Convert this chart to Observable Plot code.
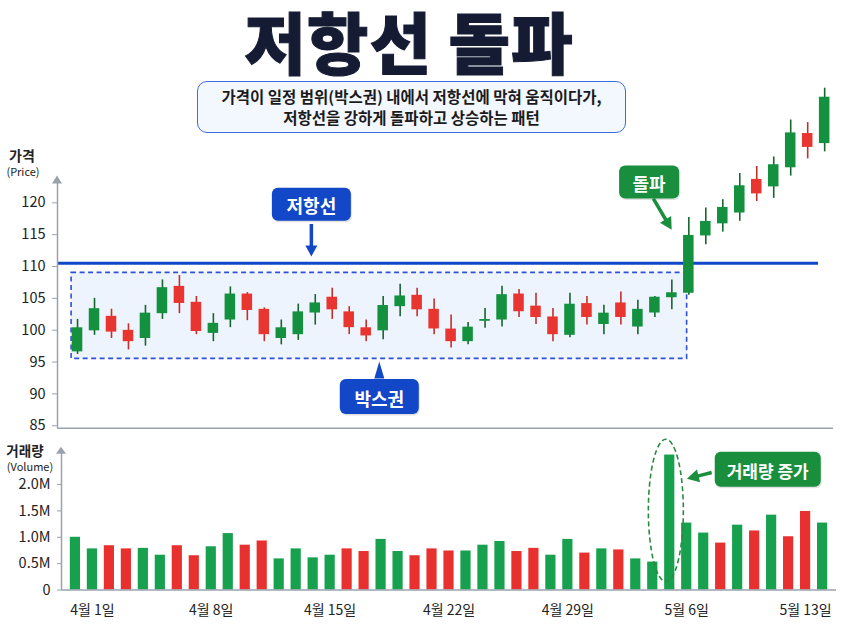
<!DOCTYPE html>
<html><head><meta charset="utf-8">
<script src="https://cdn.jsdelivr.net/npm/d3@7"></script>
<script src="https://cdn.jsdelivr.net/npm/@observablehq/plot@0.6"></script>
<style>
body{margin:0;background:#fff;font-family:"Noto Sans CJK KR","Noto Sans",sans-serif;}
#wrap{position:relative;width:849px;height:633px;overflow:hidden;background:#fff;}
#title{position:absolute;left:0;top:10px;width:818px;text-align:center;font-size:67px;font-weight:900;color:#141b33;line-height:60px;letter-spacing:1px;-webkit-text-stroke:1px #141b33;}
#sub{position:absolute;left:197px;top:81px;width:427px;height:50px;border:1.5px solid #3d6de0;border-radius:10px;background:#f3f7fe;text-align:center;font-size:15.5px;font-weight:700;color:#1b1b1b;line-height:21px;display:flex;flex-direction:column;justify-content:center;z-index:3;}
.chart{position:absolute;left:0;}
#price{top:80px;z-index:1}
#vol{top:430px;z-index:2}
.lab{position:absolute;text-align:center;color:#222;z-index:4;white-space:nowrap;}
</style></head>
<body><div id="wrap">
<div id="title">저항선 돌파</div>
<div id="sub"><div>가격이 일정 범위(박스권) 내에서 저항선에 막혀 움직이다가,</div><div>저항선을 강하게 돌파하고 상승하는 패턴</div></div>
<div class="lab" style="left:2px;top:148px;width:40px;font-size:14px;line-height:14px;font-weight:700;">가격</div>
<div class="lab" style="left:0px;top:165px;width:46px;font-size:11px;line-height:12px;">(Price)</div>
<div class="lab" style="left:0px;top:443px;width:50px;font-size:13.5px;line-height:14px;font-weight:700;">거래량</div>
<div class="lab" style="left:0px;top:460px;width:60px;font-size:11px;line-height:12px;">(Volume)</div>
<div id="price" class="chart"></div>
<div id="vol" class="chart"></div>
</div>
<script>
// ---- data ----
const open  = [96.6,99.9,102.1,99.9,98.7,102.6,106.8,104.3,99.5,101.6,105.6,103.2,98.7,99.3,102.7,105.1,102.8,100.3,99.9,103.7,105.4,103.2,100.1,98.2,101.4,101.6,105.6,103.7,102.0,99.2,104.1,100.9,104.2,100.5,102.7,105.1,105.8,114.8,116.7,118.4,123.6,122.5,125.5,130.8,129.3];
const high  = [101.7,105.0,103.3,101.0,103.9,107.9,108.6,105.3,102.6,106.8,105.9,103.5,101.6,104.1,105.6,106.6,103.7,101.6,105.3,107.2,106.6,104.9,102.4,101.2,103.4,106.9,106.4,105.8,103.4,105.8,105.3,103.9,106.0,104.7,105.3,107.9,117.7,119.2,120.5,124.6,125.7,127.2,133.0,132.6,138.0];
const low   = [96.2,99.2,98.7,96.9,97.5,101.7,102.6,99.3,98.2,100.4,101.5,98.2,97.7,98.4,100.8,101.7,99.3,98.2,98.5,102.1,102.1,99.3,97.2,97.7,100.3,100.5,102.0,100.9,98.2,98.8,100.8,99.3,100.8,99.3,102.0,103.2,105.5,113.4,115.4,117.1,120.2,120.7,124.2,126.9,128.0];
const close = [100.3,103.3,99.7,98.2,102.6,106.6,104.2,99.8,101.0,105.6,103.1,99.3,100.3,102.8,104.2,103.2,100.4,99.1,103.8,105.3,103.2,100.2,98.2,100.4,101.6,105.5,102.9,102.0,99.3,104.0,102.0,102.6,102.0,103.2,105.1,105.8,114.8,117.0,119.2,122.6,121.4,125.9,130.9,128.7,136.5];
const volume = [1.00,0.78,0.84,0.78,0.79,0.66,0.84,0.65,0.82,1.07,0.85,0.93,0.59,0.78,0.61,0.66,0.78,0.73,0.96,0.73,0.65,0.78,0.74,0.74,0.85,0.92,0.73,0.79,0.66,0.96,0.70,0.78,0.76,0.59,0.53,2.56,1.27,1.08,0.89,1.23,1.12,1.42,1.01,1.49,1.27];
const volumeUp = [1,1,0,0,1,1,0,0,1,1,0,0,1,1,1,1,0,0,1,1,0,0,0,1,1,1,0,0,1,1,0,1,0,1,1,1,1,1,0,1,0,1,0,0,1];
const dateTickIdx = [1,8,15,22,29,36,43];
const dateLabels = ["4월 1일","4월 8일","4월 15일","4월 22일","4월 29일","5월 6일","5월 13일"];
const priceTicks = [85,90,95,100,105,110,115,120];
const volTicks = [0,0.5,1.0,1.5,2.0];
const volTickLabels = ["0","0.5M","1.0M","1.5M","2.0M"];
const resistance = 110.5;
const boxRange = {x1:-0.35, x2:35.9, y1:95.5, y2:109};

// ---- styles ----
const green="#13913f", red="#e8352f", gWick="#17652f", rWick="#c2302a";
const vGreen="#17a04e", vRed="#e8312f";
const axisGray="#9aa3ad", blue="#1247c7", annGreen="#198f3d";
const FONT='"Noto Sans CJK KR","Noto Sans",sans-serif';

const candles = open.map((o,i)=>({i,o,h:high[i],l:low[i],c:close[i],up:close[i]>=o}));
const vols = volume.map((v,i)=>({i,v,up:volumeUp[i]===1}));

function badge(cx,cy,label,fill,w,h,fs){
  return (index,s)=>{
    const px=s.x(cx), py=s.y(cy);
    const g=d3.create("svg:g");
    g.append("rect").attr("x",px-w/2+1).attr("y",py-h/2+1.5).attr("width",w).attr("height",h).attr("rx",6).attr("fill","rgba(0,0,0,0.12)");
    g.append("rect").attr("x",px-w/2).attr("y",py-h/2).attr("width",w).attr("height",h).attr("rx",6).attr("fill",fill);
    g.append("text").attr("x",px).attr("y",py+1).attr("text-anchor","middle").attr("dominant-baseline","central")
      .attr("fill","#fff").attr("font-size",fs).attr("font-weight",700).attr("font-family",FONT).text(label);
    return g.node();
  };
}
function arrowMark(x1,y1,x2,y2,color,width,headLen,headW){
  return (index,s)=>{
    const ax=s.x(x1), ay=s.y(y1), bx=s.x(x2), by=s.y(y2);
    const dx=bx-ax, dy=by-ay, L=Math.hypot(dx,dy), ux=dx/L, uy=dy/L;
    const baseX=bx-ux*headLen, baseY=by-uy*headLen;
    const g=d3.create("svg:g");
    if (L>headLen+0.5) g.append("line").attr("x1",ax).attr("y1",ay).attr("x2",baseX+ux).attr("y2",baseY+uy).attr("stroke",color).attr("stroke-width",width);
    g.append("path").attr("d",`M${bx},${by}L${baseX-uy*headW/2},${baseY+ux*headW/2}L${baseX+uy*headW/2},${baseY-ux*headW/2}Z`).attr("fill",color);
    return g.node();
  };
}
function ellipseMark(cx,y1,y2,rx,color){
  return (index,s)=>{
    const px=s.x(cx), a=s.y(y1), b=s.y(y2);
    return d3.create("svg:ellipse").attr("cx",px).attr("cy",(a+b)/2).attr("rx",rx).attr("ry",Math.abs(a-b)/2)
      .attr("fill","none").attr("stroke",color).attr("stroke-width",1.6).attr("stroke-dasharray","5,3").node();
  };
}

// ---- price chart ----
const PX0=-1.18, PX1=44.52, PY0=84.6, PY1=138.5;
const price = Plot.plot({
  width:849, height:360, marginLeft:57, marginRight:16, marginTop:4.5, marginBottom:12.2,
  x:{domain:[PX0,PX1], axis:null},
  y:{domain:[PY0,PY1], label:null},
  style:{background:"transparent", fontFamily:FONT, color:"#222"},
  marks:[
    Plot.rect([boxRange],{x1:"x1",x2:"x2",y1:"y1",y2:"y2",fill:"#eef4fd",stroke:"#2f4fd6",strokeWidth:1.6,strokeDasharray:"5,3.5"}),
    Plot.ruleY([resistance],{x1:PX0,x2:43.64,stroke:blue,strokeWidth:3}),
    Plot.ruleX(candles,{x:"i",y1:"l",y2:"h",stroke:d=>d.up?gWick:rWick,strokeWidth:1.6}),
    Plot.rect(candles,{x1:d=>d.i-0.31,x2:d=>d.i+0.31,y1:d=>Math.min(d.o,d.c),y2:d=>Math.max(d.o,d.c)+0.08,fill:d=>d.up?green:red}),
    Plot.ruleY([PY0],{x1:PX0,x2:PX1,stroke:axisGray,strokeWidth:1.5}),
    Plot.ruleX([PX0],{y1:PY0,y2:123.2,stroke:axisGray,strokeWidth:1.5}),
    arrowMark(PX0,122.9,PX0,124.2,axisGray,1.5,8,10),
    Plot.axisY(priceTicks,{label:null,tickSize:5,tickPadding:7,stroke:axisGray,fill:"#222",fontSize:14.5}),
    badge(13.8,119.7,"저항선",blue,79,33,18),
    arrowMark(13.8,116.6,13.8,111.5,blue,3.5,11,12),
    badge(17.8,89.5,"박스권",blue,79,35,18),
    arrowMark(17.8,92.2,17.8,95.0,blue,0,17,10),
    badge(33.69,123.2,"돌파",annGreen,60,33,18),
    arrowMark(33.94,120.57,35.02,115.7,annGreen,3.5,12,13)
  ]
});
document.getElementById("price").appendChild(price);

// ---- volume chart ----
const VX0=-0.82, VX1=44.82;
const vol = Plot.plot({
  width:849, height:203, marginLeft:61, marginRight:13, marginTop:19.8, marginBottom:43.5,
  x:{domain:[VX0,VX1], label:null},
  y:{domain:[0,2.65], label:null},
  style:{background:"transparent", fontFamily:FONT, color:"#222"},
  marks:[
    Plot.rect(vols,{x1:d=>d.i-0.3,x2:d=>d.i+0.3,y1:0,y2:"v",fill:d=>d.up?vGreen:vRed}),
    Plot.ruleY([0],{x1:VX0,x2:VX1,stroke:axisGray,strokeWidth:1.5}),
    Plot.ruleX([VX0],{y1:0,y2:2.6,stroke:axisGray,strokeWidth:1.5}),
    arrowMark(VX0,2.58,VX0,2.71,axisGray,1.5,7,10),
    Plot.axisY(volTicks,{label:null,tickSize:4,tickPadding:7,stroke:axisGray,fill:"#222",fontSize:14.5,tickFormat:(d,i)=>volTickLabels[i]}),
    Plot.axisX(dateTickIdx,{label:null,tickSize:0,tickPadding:15,fill:"#222",fontSize:14,tickFormat:(d,i)=>dateLabels[i]}),
    ellipseMark(34.8,2.85,0.15,17.5,"#2c8a3f"),
    badge(40.8,2.28,"거래량 증가",annGreen,106,35,17),
    arrowMark(37.5,2.22,36.04,2.10,annGreen,3.5,12,13)
  ]
});
document.getElementById("vol").appendChild(vol);
</script>
</body></html>
